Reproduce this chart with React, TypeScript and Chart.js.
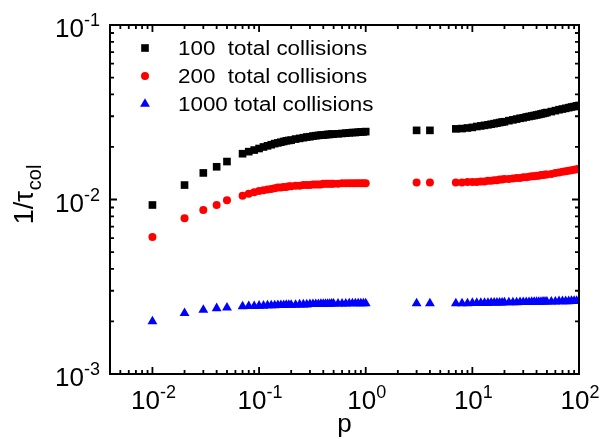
import { useEffect, useRef } from 'react';
import { Chart, registerables } from 'chart.js';

Chart.register(...registerables);

// p values (x)
const P = [
  0.01, 0.02, 0.03, 0.04, 0.05,
  0.07, 0.08, 0.09, 0.10, 0.11, 0.12, 0.13, 0.14, 0.15, 0.16, 0.17, 0.18, 0.19, 0.20,
  0.22, 0.24, 0.26, 0.28, 0.30, 0.32, 0.34, 0.36, 0.38, 0.40, 0.42, 0.44, 0.46, 0.48, 0.50,
  0.55, 0.60, 0.65, 0.70, 0.75, 0.80, 0.85, 0.90, 0.95, 1.00,
  3, 4,
  7, 8, 9, 10, 11, 12, 13, 14, 15, 16, 17, 18, 19, 20,
  22, 24, 26, 28, 30, 32, 34, 36, 38, 40, 42, 44, 46, 48, 50,
  55, 60, 65, 70, 75, 80, 85, 90, 95, 100,
];

// 1/tau_col for 100 total collisions
const S100 = [
  0.0093, 0.0121, 0.0142, 0.0154, 0.0165,
  0.0183, 0.0188, 0.0192, 0.0196, 0.0200, 0.0203, 0.0206, 0.0209, 0.0211, 0.0213, 0.0215, 0.0217, 0.0218, 0.0219,
  0.0222, 0.0224, 0.0226, 0.0228, 0.0229, 0.0231, 0.0232, 0.0233, 0.0234, 0.0234, 0.0235, 0.0236, 0.0236, 0.0237, 0.0237,
  0.0238, 0.0239, 0.0240, 0.0241, 0.0242, 0.0242, 0.0243, 0.0244, 0.0244, 0.0245,
  0.0249, 0.0249,
  0.0254, 0.0255, 0.0257, 0.0259, 0.0262, 0.0264, 0.0266, 0.0268, 0.0270, 0.0272, 0.0274, 0.0276, 0.0278, 0.0279,
  0.0283, 0.0286, 0.0289, 0.0292, 0.0294, 0.0297, 0.0299, 0.0301, 0.0303, 0.0305, 0.0307, 0.0309, 0.0311, 0.0313, 0.0315,
  0.0319, 0.0323, 0.0327, 0.0330, 0.0333, 0.0336, 0.0339, 0.0341, 0.0344, 0.0346,
];

// 1/tau_col for 200 total collisions
const S200 = [
  0.0061, 0.0078, 0.0087, 0.0093, 0.0099,
  0.0105, 0.0108, 0.0110, 0.0112, 0.0113, 0.0114, 0.0115, 0.0116, 0.0117, 0.0117, 0.0118, 0.0118, 0.0119, 0.0119,
  0.0120, 0.0120, 0.0121, 0.0121, 0.0121, 0.0122, 0.0122, 0.0122, 0.0122, 0.0123, 0.0123, 0.0123, 0.0123, 0.0123, 0.0123,
  0.0123, 0.0124, 0.0124, 0.0124, 0.0124, 0.0124, 0.0124, 0.0124, 0.0124, 0.0124,
  0.0125, 0.0125,
  0.0125, 0.0125, 0.0126, 0.0126, 0.0126, 0.0127, 0.0127, 0.0128, 0.0128, 0.0129, 0.0129, 0.0130, 0.0130, 0.0131,
  0.0131, 0.0132, 0.0133, 0.0133, 0.0134, 0.0134, 0.0135, 0.0136, 0.0136, 0.0137, 0.0137, 0.0138, 0.0138, 0.0139, 0.0139,
  0.0140, 0.0142, 0.0143, 0.0144, 0.0145, 0.0146, 0.0147, 0.0148, 0.0149, 0.0150,
];

// 1/tau_col for 1000 total collisions
const S1000 = [
  0.00200, 0.00223, 0.00233, 0.00238, 0.00240,
  0.00244, 0.00245, 0.00245, 0.00246, 0.00246, 0.00247, 0.00247, 0.00247, 0.00248, 0.00248, 0.00248, 0.00249, 0.00249, 0.00249,
  0.00249, 0.00250, 0.00250, 0.00250, 0.00251, 0.00251, 0.00251, 0.00251, 0.00252, 0.00252, 0.00252, 0.00252, 0.00252, 0.00253, 0.00253,
  0.00253, 0.00253, 0.00253, 0.00254, 0.00254, 0.00254, 0.00254, 0.00254, 0.00254, 0.00254,
  0.00254, 0.00254,
  0.00254, 0.00254, 0.00254, 0.00255, 0.00255, 0.00255, 0.00255, 0.00255, 0.00256, 0.00256, 0.00256, 0.00256, 0.00256, 0.00257,
  0.00257, 0.00257, 0.00257, 0.00258, 0.00258, 0.00258, 0.00258, 0.00259, 0.00259, 0.00259, 0.00259, 0.00259, 0.00260, 0.00260, 0.00260,
  0.00260, 0.00260, 0.00261, 0.00261, 0.00261, 0.00261, 0.00262, 0.00262, 0.00262, 0.00262,
];

const SERIES_LABELS = ['100  total collisions', '200  total collisions', '1000 total collisions'];
const X_TICK_EXPONENTS = [-2, -1, 0, 1, 2];
const Y_TICK_EXPONENTS = [-3, -2, -1];
const X_TITLE = 'p';
const Y_TITLE_MAIN = '1/τ';
const Y_TITLE_SUB = 'col';

const FONT = "'Liberation Sans', Arial, Helvetica, sans-serif";

function drawSci(ctx: CanvasRenderingContext2D, exp: number, x: number, baseline: number, align: 'right' | 'center') {
  ctx.save();
  ctx.fillStyle = '#000';
  ctx.textAlign = 'left';
  ctx.textBaseline = 'alphabetic';
  ctx.font = `26px ${FONT}`;
  const w1 = ctx.measureText('10').width;
  ctx.font = `18px ${FONT}`;
  const sup = String(exp);
  const w2 = ctx.measureText(sup).width;
  const total = w1 + w2;
  const start = align === 'right' ? x - total : x - total / 2;
  ctx.font = `26px ${FONT}`;
  ctx.fillText('10', start, baseline);
  ctx.font = `18px ${FONT}`;
  ctx.fillText(sup, start + w1, baseline - 11);
  ctx.restore();
}

const framePlugin = {
  id: 'framePlugin',
  afterDraw(chart: any) {
    const ctx: CanvasRenderingContext2D = chart.ctx;
    const { left, right, top, bottom } = chart.chartArea;
    const xs = chart.scales.x;
    const ys = chart.scales.y;
    ctx.save();
    ctx.strokeStyle = '#000';
    // ticks
    ctx.lineWidth = 1.8;
    ctx.beginPath();
    for (let d = -3; d <= 2; d++) {
      for (let m = 1; m <= 9; m++) {
        const v = m * Math.pow(10, d);
        const len = m === 1 ? 7 : 4;
        if (v >= xs.min * 0.9999 && v <= xs.max * 1.0001) {
          const px = xs.getPixelForValue(v);
          ctx.moveTo(px, bottom);
          ctx.lineTo(px, bottom - len);
          ctx.moveTo(px, top);
          ctx.lineTo(px, top + len);
        }
        if (v >= ys.min * 0.9999 && v <= ys.max * 1.0001) {
          const py = ys.getPixelForValue(v);
          ctx.moveTo(left, py);
          ctx.lineTo(left + len, py);
          ctx.moveTo(right, py);
          ctx.lineTo(right - len, py);
        }
      }
    }
    ctx.stroke();
    // frame
    ctx.lineWidth = 2;
    ctx.strokeRect(left, top, right - left, bottom - top);

    // tick labels
    X_TICK_EXPONENTS.forEach((e) => {
      drawSci(ctx, e, xs.getPixelForValue(Math.pow(10, e)) + 1, 409, 'center');
    });
    Y_TICK_EXPONENTS.forEach((e) => {
      drawSci(ctx, e, 100, ys.getPixelForValue(Math.pow(10, e)) + 12, 'right');
    });

    // axis titles
    ctx.fillStyle = '#000';
    ctx.textBaseline = 'alphabetic';
    ctx.font = `26px ${FONT}`;
    ctx.textAlign = 'center';
    ctx.fillText(X_TITLE, (left + right) / 2, 432);

    ctx.save();
    ctx.translate(33, 195);
    ctx.rotate(-Math.PI / 2);
    ctx.textAlign = 'left';
    ctx.font = `27px ${FONT}`;
    const wm = ctx.measureText(Y_TITLE_MAIN).width;
    ctx.font = `20px ${FONT}`;
    const ws = ctx.measureText(Y_TITLE_SUB).width;
    const start = -(wm + ws) / 2;
    ctx.font = `27px ${FONT}`;
    ctx.fillText(Y_TITLE_MAIN, start, 0);
    ctx.font = `20px ${FONT}`;
    ctx.fillText(Y_TITLE_SUB, start + wm + 1, 8);
    ctx.restore();

    // legend
    const rowsY = [48, 76, 104];
    chart.data.datasets.forEach((ds: any, i: number) => {
      const y = rowsY[i];
      ctx.save();
      ctx.fillStyle = ds.backgroundColor;
      ctx.beginPath();
      const cx = 145;
      if (ds.pointStyle === 'rect') {
        const s = ds.pointRadius * Math.SQRT1_2;
        ctx.rect(cx - s, y - s, 2 * s, 2 * s);
      } else if (ds.pointStyle === 'circle') {
        ctx.arc(cx, y, ds.pointRadius, 0, Math.PI * 2);
      } else {
        const r = ds.pointRadius;
        const h = r * 1.5;
        const half = r * Math.sqrt(3) / 2;
        ctx.moveTo(cx, y - r);
        ctx.lineTo(cx + half, y - r + h);
        ctx.lineTo(cx - half, y - r + h);
        ctx.closePath();
      }
      ctx.fill();
      ctx.fillStyle = '#000';
      ctx.font = `20px ${FONT}`;
      ctx.textAlign = 'left';
      ctx.textBaseline = 'alphabetic';
      ctx.translate(178, y + 7);
      ctx.scale(1.12, 1);
      ctx.fillText(SERIES_LABELS[i], 0, 0);
      ctx.restore();
    });
    ctx.restore();
  },
};

export default function App() {
  const ref = useRef<HTMLCanvasElement | null>(null);
  useEffect(() => {
    document.body.style.margin = '0';
    const canvas = ref.current;
    if (!canvas) return;
    const mk = (vals: number[]) => P.map((p, i) => ({ x: p, y: vals[i] }));
    const chart = new Chart(canvas, {
      type: 'scatter',
      data: {
        datasets: [
          {
            label: SERIES_LABELS[0],
            data: mk(S100),
            pointStyle: 'rect',
            pointRadius: 5.4,
            pointHoverRadius: 5.4,
            backgroundColor: '#000000',
            borderWidth: 0,
          },
          {
            label: SERIES_LABELS[1],
            data: mk(S200),
            pointStyle: 'circle',
            pointRadius: 4,
            pointHoverRadius: 4,
            backgroundColor: '#ff0000',
            borderWidth: 0,
          },
          {
            label: SERIES_LABELS[2],
            data: mk(S1000),
            pointStyle: 'triangle',
            pointRadius: 5.7,
            pointHoverRadius: 5.7,
            backgroundColor: '#0000ff',
            borderWidth: 0,
          },
        ] as any,
      },
      options: {
        animation: false,
        responsive: false,
        layout: { padding: { left: 110, right: 21, top: 25, bottom: 65 } },
        scales: {
          x: { type: 'logarithmic', min: 0.004, max: 100, display: false },
          y: { type: 'logarithmic', min: 0.001, max: 0.1, display: false },
        },
        plugins: {
          legend: { display: false },
          tooltip: { enabled: false },
        },
        events: [],
      },
      plugins: [framePlugin],
    });
    return () => chart.destroy();
  }, []);
  return (
    <div style={{ width: 600, height: 439, background: '#fff' }}>
      <canvas ref={ref} width={600} height={439} style={{ display: 'block' }} />
    </div>
  );
}
